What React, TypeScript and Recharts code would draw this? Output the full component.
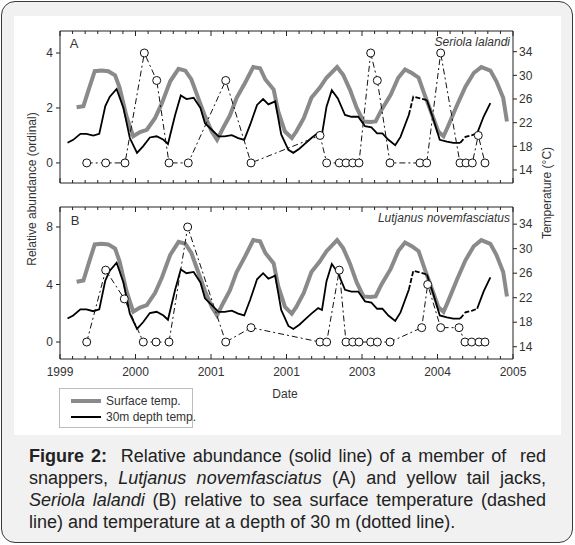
import React from 'react';
import { ComposedChart, Line, XAxis, YAxis } from 'recharts';

const FONT = '"Liberation Sans", Arial, Helvetica, sans-serif';
const AXIS = '#222';
const GREY = '#8a8a8a';

// x axis (decimal years)
const yearTicks = [1999, 2000, 2001, 2002, 2003, 2004, 2005];
const yearLabels = ['1999', '2000', '2001', '2001', '2003', '2004', '2005'];
const xTicks = Array.from({ length: 37 }, (_, k) => 1999 + k / 6);

// temperature axis
const tempTicks = [14, 18, 22, 26, 30, 34];

// sea surface temperature
const sstYears = [
  1999.22, 1999.31, 1999.38, 1999.46, 1999.55, 1999.64, 1999.73, 1999.79, 1999.88, 1999.97,
  2000.06, 2000.15, 2000.26, 2000.35, 2000.46, 2000.57, 2000.66, 2000.74, 2000.83, 2000.92,
  2001.01, 2001.08, 2001.16, 2001.25, 2001.34, 2001.45, 2001.56, 2001.65, 2001.72, 2001.83,
  2001.89, 2001.98, 2002.07, 2002.13, 2002.23, 2002.33, 2002.44, 2002.53, 2002.67, 2002.75,
  2002.84, 2002.93, 2003.02, 2003.11, 2003.18, 2003.26, 2003.38, 2003.48, 2003.57, 2003.66,
  2003.75, 2003.83, 2003.93, 2004.01, 2004.08, 2004.14, 2004.26, 2004.37, 2004.48, 2004.58,
  2004.7, 2004.78, 2004.87, 2004.92,
];
const sstTemp = [
  24.6, 24.8, 27.6, 30.7, 30.8, 30.7, 30.0, 27.9, 23.1, 19.7,
  20.4, 20.8, 22.8, 25.3, 29.0, 31.1, 30.8, 29.3, 26.2, 23.1,
  20.5, 19.1, 21.1, 23.2, 26.2, 28.7, 31.4, 31.2, 29.3, 27.6,
  23.9, 20.5, 19.4, 20.5, 22.8, 26.2, 27.9, 29.6, 31.4, 30.1,
  27.6, 24.5, 22.2, 22.1, 22.2, 24.2, 26.7, 29.6, 31.0, 30.4,
  29.6, 26.7, 23.3, 20.5, 19.7, 21.4, 25.0, 28.1, 30.4, 31.4,
  30.8, 29.0, 26.2, 22.2,
];

// temperature at 30 m depth
const depthYears = [
  1999.1, 1999.175, 1999.27, 1999.35, 1999.44, 1999.52, 1999.6, 1999.66, 1999.75, 1999.84,
  1999.925, 2000.02, 2000.1, 2000.19, 2000.28, 2000.37, 2000.43, 2000.525, 2000.6, 2000.675,
  2000.77, 2000.86, 2000.92, 2001.01, 2001.1, 2001.18, 2001.275, 2001.36, 2001.44, 2001.52,
  2001.61, 2001.69, 2001.76, 2001.85, 2001.93, 2002.025, 2002.09, 2002.17, 2002.25, 2002.33,
  2002.42, 2002.47, 2002.53, 2002.6, 2002.68, 2002.775, 2002.86, 2002.95, 2003.04, 2003.125,
  2003.2, 2003.27, 2003.35, 2003.44, 2003.51, 2003.62, 2003.68, 2003.77, 2003.86, 2003.95,
  2004.03, 2004.125, 2004.21, 2004.3, 2004.37, 2004.46, 2004.525, 2004.61, 2004.7,
];
const depthTemp = [
  18.6, 19.1, 20.1, 20.1, 19.8, 20.1, 24.8, 26.4, 27.7, 24.5,
  19.4, 16.9, 18.0, 19.5, 19.7, 19.1, 18.4, 23.3, 26.6, 26.0,
  26.2, 24.5, 21.9, 20.8, 19.7, 19.7, 19.9, 19.4, 19.1, 21.7,
  25.0, 26.0, 25.1, 25.6, 20.0, 17.4, 16.9, 17.6, 18.5, 19.4,
  20.3, 20.0, 24.7, 27.5, 26.1, 23.3, 23.0, 23.0, 21.4, 21.2,
  20.2, 20.2, 19.1, 18.2, 19.6, 23.3, 26.4, 26.1, 25.8, 22.4,
  19.1, 18.8, 18.6, 18.6, 19.6, 19.9, 20.2, 23.0, 25.3,
];
// stretches of the depth record drawn dashed: [from index, to index]
const depthDashed = [[55, 58], [63, 66]];

// panel A: Seriola lalandi
const seriolaYears = [
  1999.354, 1999.605, 1999.861, 2000.117, 2000.281, 2000.444, 2000.699, 2001.195, 2001.53,
  2002.444, 2002.532, 2002.699, 2002.788, 2002.877, 2002.96, 2003.115, 2003.203, 2003.371,
  2003.768, 2003.857, 2004.042, 2004.298, 2004.377, 2004.461, 2004.54, 2004.629,
];
const seriolaAbundance = [0, 0, 0, 4, 3, 0, 0, 3, 0, 1, 0, 0, 0, 0, 0, 4, 3, 0, 0, 0, 4, 0, 0, 0, 1, 0];

// panel B: Lutjanus novemfasciatus
const lutjanusYears = [
  1999.354, 1999.605, 1999.852, 2000.103, 2000.272, 2000.444, 2000.691, 2001.195, 2001.53,
  2002.444, 2002.532, 2002.699, 2002.788, 2002.877, 2002.96, 2003.115, 2003.203, 2003.371,
  2003.791, 2003.87, 2004.042, 2004.285, 2004.364, 2004.453, 2004.55, 2004.629,
];
const lutjanusAbundance = [0, 5, 3, 0, 0, 0, 8, 0, 1, 0, 0, 5, 0, 0, 0, 0, 0, 0, 1, 4, 1, 1, 0, 0, 0, 0];

const legendItems = ['Surface temp.', '30m depth temp.'];

type Pt = { t: number; v: number };
const toPoints = (xs: number[], ys: number[]): Pt[] => xs.map((t, i) => ({ t, v: ys[i] }));

const sstData = toPoints(sstYears, sstTemp);
const depthData = toPoints(depthYears, depthTemp);

// split the depth record into solid and dashed pieces
const depthSegments: { data: Pt[]; dashed: boolean }[] = [];
{
  let start = 0;
  depthDashed.forEach(([a, b]) => {
    depthSegments.push({ data: depthData.slice(start, a + 1), dashed: false });
    depthSegments.push({ data: depthData.slice(a, b + 1), dashed: true });
    start = b;
  });
  depthSegments.push({ data: depthData.slice(start), dashed: false });
}

const XTick = (props: any) => {
  const { x, y, payload, side, showLabel } = props;
  const major = Math.abs(payload.value - Math.round(payload.value)) < 1e-6;
  const len = major ? 5 : 3;
  const dir = side === 'bottom' ? -1 : 1;
  const idx = yearTicks.indexOf(Math.round(payload.value));
  return (
    <g>
      <line x1={x} x2={x} y1={y} y2={y + dir * len} stroke={AXIS} strokeWidth={1} />
      {showLabel && major && (
        <text x={x} y={y + 17} textAnchor="middle" fontSize={12} fill="#333" fontFamily={FONT}>
          {yearLabels[idx]}
        </text>
      )}
    </g>
  );
};

const renderDot = (p: any) => (
  <circle key={`dot-${p.index}`} cx={p.cx} cy={p.cy} r={4} fill="#fff" stroke="#111" strokeWidth={1} />
);

interface PanelProps {
  abundance: Pt[];
  leftDomain: [number, number];
  leftTicks: number[];
  rightDomain: [number, number];
  showYears: boolean;
  marginTop: number;
  marginBottom: number;
}

const Panel: React.FC<PanelProps> = ({
  abundance, leftDomain, leftTicks, rightDomain, showYears, marginTop, marginBottom,
}) => (
  <ComposedChart width={575} height={200} margin={{ top: marginTop, right: 0, bottom: marginBottom, left: 0 }}>
    <XAxis
      xAxisId="top"
      orientation="top"
      type="number"
      dataKey="t"
      domain={[1999, 2005]}
      allowDataOverflow
      ticks={xTicks}
      interval={0}
      height={1}
      tickSize={0}
      tickMargin={0}
      tickLine={false}
      tick={<XTick side="top" />}
      axisLine={{ stroke: AXIS }}
    />
    <XAxis
      xAxisId="bottom"
      orientation="bottom"
      type="number"
      dataKey="t"
      domain={[1999, 2005]}
      allowDataOverflow
      ticks={xTicks}
      interval={0}
      height={1}
      tickSize={0}
      tickMargin={0}
      tickLine={false}
      tick={<XTick side="bottom" showLabel={showYears} />}
      axisLine={{ stroke: AXIS }}
    />
    <YAxis
      yAxisId="left"
      orientation="left"
      type="number"
      domain={leftDomain}
      allowDataOverflow
      ticks={leftTicks}
      interval={0}
      width={60}
      tickSize={4}
      tickMargin={3}
      axisLine={{ stroke: AXIS }}
      tickLine={{ stroke: AXIS }}
      tick={{ fontSize: 12, fill: '#333', fontFamily: FONT }}
    />
    <YAxis
      yAxisId="right"
      orientation="right"
      type="number"
      domain={rightDomain}
      allowDataOverflow
      ticks={tempTicks}
      interval={0}
      width={62}
      tickSize={4}
      tickMargin={2}
      axisLine={{ stroke: AXIS }}
      tickLine={{ stroke: AXIS }}
      tick={{ fontSize: 12, fill: '#333', fontFamily: FONT }}
    />
    <Line
      xAxisId="top"
      yAxisId="right"
      data={sstData}
      dataKey="v"
      stroke={GREY}
      strokeWidth={4}
      dot={false}
      activeDot={false}
      isAnimationActive={false}
    />
    {depthSegments.map((seg, i) => (
      <Line
        key={`depth-${i}`}
        xAxisId="bottom"
        yAxisId="right"
        data={seg.data}
        dataKey="v"
        stroke="#000"
        strokeWidth={1.8}
        strokeDasharray={seg.dashed ? '5 2' : undefined}
        dot={false}
        activeDot={false}
        isAnimationActive={false}
      />
    ))}
    <Line
      xAxisId="bottom"
      yAxisId="left"
      data={abundance}
      dataKey="v"
      stroke="#111"
      strokeWidth={1}
      strokeDasharray="6 3 2 3"
      dot={renderDot}
      activeDot={false}
      isAnimationActive={false}
    />
  </ComposedChart>
);

const at = (x: number, y: number, rot = 0): React.CSSProperties => ({
  position: 'absolute',
  left: x,
  top: y,
  transform: `translate(-50%, -50%) rotate(${rot}deg)`,
  whiteSpace: 'nowrap',
});

const justified: React.CSSProperties = { textAlign: 'justify', textAlignLast: 'justify' } as React.CSSProperties;

export default function App() {
  return (
    <div style={{ position: 'absolute', left: 0, top: 0, width: 575, height: 545, background: '#fff', fontFamily: FONT, color: '#333' }}>
      <div
        style={{
          position: 'absolute', left: 1, top: 1, width: 572, height: 542,
          border: '1.5px solid #3a3a3a', borderRadius: 14, background: '#f1f1f1', boxSizing: 'border-box',
        }}
      />
      <div style={{ position: 'absolute', left: 14, top: 16, width: 547, height: 419, background: '#fff' }} />

      <div style={{ position: 'absolute', left: 0, top: 0 }}>
        <Panel
          abundance={toPoints(seriolaYears, seriolaAbundance)}
          leftDomain={[-0.73, 4.8]}
          leftTicks={[0, 2, 4]}
          rightDomain={[11.8, 37.5]}
          showYears={false}
          marginTop={30}
          marginBottom={16}
        />
      </div>
      <div style={{ position: 'absolute', left: 0, top: 190 }}>
        <Panel
          abundance={toPoints(lutjanusYears, lutjanusAbundance)}
          leftDomain={[-1.18, 9.39]}
          leftTicks={[0, 4, 8]}
          rightDomain={[12, 36.8]}
          showYears
          marginTop={16}
          marginBottom={30}
        />
      </div>

      <div style={{ ...at(74, 43), fontSize: 13 }}>A</div>
      <div style={{ ...at(75, 220), fontSize: 13 }}>B</div>
      <div style={{ position: 'absolute', right: 575 - 510, top: 35, fontSize: 12, fontStyle: 'italic', whiteSpace: 'nowrap' }}>
        Seriola lalandi
      </div>
      <div style={{ position: 'absolute', right: 575 - 510, top: 211, fontSize: 12, fontStyle: 'italic', whiteSpace: 'nowrap' }}>
        Lutjanus novemfasciatus
      </div>
      <div style={{ ...at(32, 189, -90), fontSize: 12 }}>Relative abundance (ordinal)</div>
      <div style={{ ...at(547, 193, -90), fontSize: 12 }}>Temperature (°C)</div>
      <div style={{ ...at(285, 394), fontSize: 12 }}>Date</div>

      <div
        style={{
          position: 'absolute', left: 59, top: 388, width: 134, height: 40,
          border: '1px solid #bdbdbd', background: '#fff', boxSizing: 'border-box', fontSize: 12,
        }}
      >
        {legendItems.map((name, i) => (
          <div key={name} style={{ position: 'absolute', left: 11, top: i === 0 ? 5 : 21, display: 'flex', alignItems: 'center', whiteSpace: 'nowrap' }}>
            <span
              style={{
                display: 'inline-block', width: 30, height: i === 0 ? 4 : 2,
                background: i === 0 ? GREY : '#000', marginRight: 5,
              }}
            />
            <span>{name}</span>
          </div>
        ))}
      </div>

      <div style={{ position: 'absolute', left: 29, top: 445, width: 517, fontSize: 18, lineHeight: '22px', color: '#222' }}>
        <div style={justified}>
          <b>Figure 2:</b>&nbsp; Relative abundance (solid line) of a member of&nbsp; red
        </div>
        <div style={justified}>
          snappers, <i>Lutjanus novemfasciatus</i> (A) and yellow tail jacks,
        </div>
        <div style={justified}>
          <i>Seriola lalandi</i> (B) relative to sea surface temperature (dashed
        </div>
        <div>line) and temperature at a depth of 30 m (dotted line).</div>
      </div>
    </div>
  );
}
